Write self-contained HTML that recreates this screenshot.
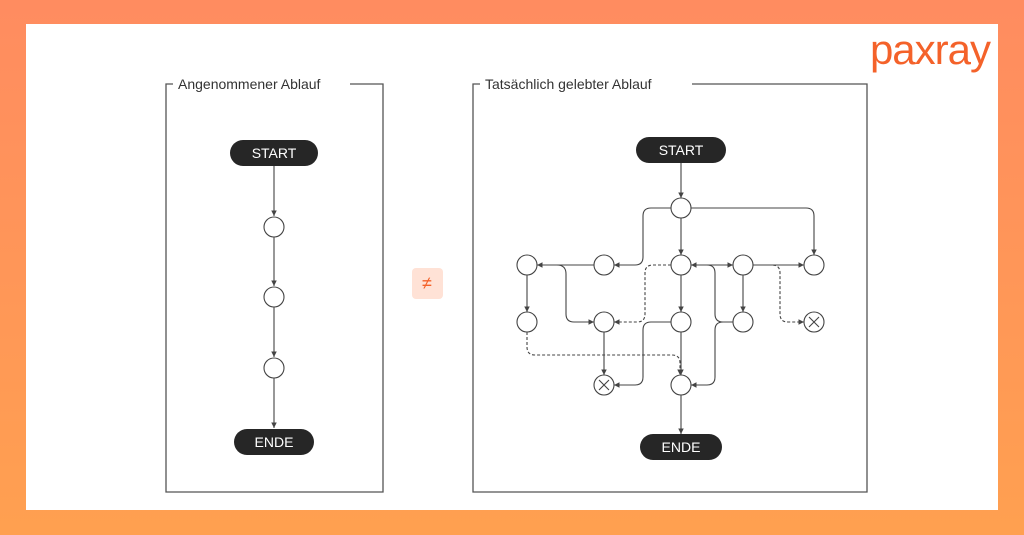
<!DOCTYPE html>
<html><head><meta charset="utf-8"><style>
html,body{margin:0;padding:0}
body{width:1024px;height:535px;background:linear-gradient(#ff8c60,#ffa050);position:relative;overflow:hidden;font-family:"Liberation Sans",sans-serif}
.panel{position:absolute;left:26px;top:24px;width:972px;height:486px;background:#fff}
</style></head><body>
<div class="panel"></div>
<svg width="1024" height="535" style="position:absolute;left:0;top:0" font-family="Liberation Sans, sans-serif">
<defs><marker id="a" markerWidth="6" markerHeight="6" refX="5" refY="3" orient="auto"><path d="M0,0.5 L5,3 L0,5.5z" fill="#444"/></marker></defs>
<text x="990" y="64" text-anchor="end" font-size="42" fill="#f4622a" letter-spacing="-1">paxray</text>
<!-- left box -->
<g fill="none" stroke="#555" stroke-width="1.3">
<path d="M173,84 H166 V492 H383 V84 H350"/>
<path d="M480,84 H473 V492 H867 V84 H692"/>
</g>
<text x="178" y="89" font-size="14" fill="#333">Angenommener Ablauf</text>
<text x="485" y="89" font-size="14" fill="#333">Tatsächlich gelebter Ablauf</text>
<g stroke="#444" stroke-width="1.1" fill="none">
<line x1="274" y1="166" x2="274" y2="216" marker-end="url(#a)"/>
<line x1="274" y1="237" x2="274" y2="286" marker-end="url(#a)"/>
<line x1="274" y1="307" x2="274" y2="357" marker-end="url(#a)"/>
<line x1="274" y1="378" x2="274" y2="428" marker-end="url(#a)"/>
<circle cx="274" cy="227" r="10" fill="#fff"/><circle cx="274" cy="297" r="10" fill="#fff"/><circle cx="274" cy="368" r="10" fill="#fff"/>
</g>
<rect x="230" y="140" width="88" height="26" rx="13" fill="#262626"/>
<text x="274" y="158" font-size="14" fill="#fff" text-anchor="middle">START</text>
<rect x="234" y="429" width="80" height="26" rx="13" fill="#262626"/>
<text x="274" y="447" font-size="14" fill="#fff" text-anchor="middle">ENDE</text>
<rect x="412" y="268" width="31" height="31" rx="4" fill="#ffe2d6"/>
<text x="427" y="289" font-size="18" fill="#f4622a" text-anchor="middle">≠</text>
<!-- right diagram -->
<g stroke="#444" stroke-width="1.1" fill="none">
<line x1="681" y1="163" x2="681" y2="198" marker-end="url(#a)"/>
<path d="M671,208 H651 Q643,208 643,216 V257 Q643,265 635,265 H614" marker-end="url(#a)"/>
<path d="M691,208 H806 Q814,208 814,216 V255" marker-end="url(#a)"/>
<line x1="681" y1="218" x2="681" y2="255" marker-end="url(#a)"/>
<line x1="594" y1="265" x2="537" y2="265" marker-end="url(#a)"/>
<path d="M557,265 Q566,265 566,274 V314 Q566,322 574,322 H594" marker-end="url(#a)"/>
<line x1="527" y1="275" x2="527" y2="312" marker-end="url(#a)"/>
<path d="M527,332 V347 Q527,355 535,355 H672 Q680,355 680,363 V375" stroke-dasharray="3,2" marker-end="url(#a)"/>
<path d="M671,265 H653 Q645,265 645,273 V314 Q645,322 637,322 H614" stroke-dasharray="3,2" marker-end="url(#a)"/>
<line x1="681" y1="275" x2="681" y2="312" marker-end="url(#a)"/>
<line x1="691" y1="265" x2="733" y2="265" marker-end="url(#a)"/>
<path d="M733,322 H723 Q715,322 715,314 V273 Q715,265 707,265 H691" marker-end="url(#a)"/>
<path d="M733,322 H723 Q715,322 715,330 V377 Q715,385 707,385 H691" marker-end="url(#a)"/>
<line x1="743" y1="275" x2="743" y2="312" marker-end="url(#a)"/>
<line x1="753" y1="265" x2="804" y2="265" marker-end="url(#a)"/>
<path d="M753,265 H772 Q780,265 780,273 V314 Q780,322 788,322 H804" stroke-dasharray="3,2" marker-end="url(#a)"/>
<line x1="681" y1="332" x2="681" y2="375" marker-end="url(#a)"/>
<path d="M671,322 H651 Q643,322 643,330 V377 Q643,385 635,385 H614" marker-end="url(#a)"/>
<line x1="604" y1="332" x2="604" y2="375" marker-end="url(#a)"/>
<line x1="681" y1="395" x2="681" y2="434" marker-end="url(#a)"/>
<g fill="#fff">
<circle cx="681" cy="208" r="10"/>
<circle cx="527" cy="265" r="10"/><circle cx="604" cy="265" r="10"/><circle cx="681" cy="265" r="10"/><circle cx="743" cy="265" r="10"/><circle cx="814" cy="265" r="10"/>
<circle cx="527" cy="322" r="10"/><circle cx="604" cy="322" r="10"/><circle cx="681" cy="322" r="10"/><circle cx="743" cy="322" r="10"/><circle cx="814" cy="322" r="10"/>
<circle cx="604" cy="385" r="10"/><circle cx="681" cy="385" r="10"/>
</g>
<path d="M809,317 L819,327 M819,317 L809,327 M599,380 L609,390 M609,380 L599,390"/>
</g>
<rect x="636" y="137" width="90" height="26" rx="13" fill="#262626"/>
<text x="681" y="155" font-size="14" fill="#fff" text-anchor="middle">START</text>
<rect x="640" y="434" width="82" height="26" rx="13" fill="#262626"/>
<text x="681" y="452" font-size="14" fill="#fff" text-anchor="middle">ENDE</text>
</svg>
</body></html>
